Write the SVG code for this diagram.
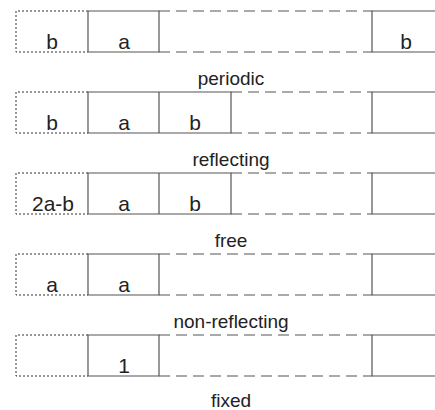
<svg xmlns="http://www.w3.org/2000/svg" width="435" height="410" viewBox="0 0 435 410">
<style>
.dot{fill:none;stroke:#333;stroke-width:1;stroke-dasharray:2,2}
.sol{fill:none;stroke:#555;stroke-width:1.2}
.dash{fill:none;stroke:#555;stroke-width:1.2;stroke-dasharray:11,6}
text{font-family:"Liberation Sans",Arial,sans-serif;font-size:19px;fill:#222;text-anchor:middle}
.c{font-size:21px}
</style>
<rect width="435" height="410" fill="#fff"/>
<g id="periodic" transform="translate(0,11)">
<path class="dot" d="M88,0H16V41H88"/>
<path class="sol" d="M88,0V41M88,0H159V41H88M159,0V41"/>
<path class="dash" d="M159,0H372M159,41H372"/>
<path class="sol" d="M435,0H372V41H435"/>
<text class="c" x="52" y="38">b</text><text class="c" x="124" y="38">a</text><text class="c" x="406" y="38">b</text>
<text x="231" y="74">periodic</text>
</g>
<g id="reflecting" transform="translate(0,92)">
<path class="dot" d="M88,0H16V41H88"/>
<path class="sol" d="M88,0H231V41H88ZM159,0V41"/>
<path class="dash" d="M231,0H372M231,41H372"/>
<path class="sol" d="M435,0H372V41H435"/>
<text class="c" x="52" y="38">b</text><text class="c" x="124" y="38">a</text><text class="c" x="195" y="38">b</text>
<text x="231" y="74">reflecting</text>
</g>
<g id="free" transform="translate(0,173)">
<path class="dot" d="M88,0H16V41H88"/>
<path class="sol" d="M88,0H231V41H88ZM159,0V41"/>
<path class="dash" d="M231,0H372M231,41H372"/>
<path class="sol" d="M435,0H372V41H435"/>
<text class="c" x="53" y="38">2a-b</text><text class="c" x="124" y="38">a</text><text class="c" x="195" y="38">b</text>
<text x="231" y="74">free</text>
</g>
<g id="non-reflecting" transform="translate(0,254)">
<path class="dot" d="M88,0H16V41H88"/>
<path class="sol" d="M88,0H159V41H88Z"/>
<path class="dash" d="M159,0H372M159,41H372"/>
<path class="sol" d="M435,0H372V41H435"/>
<text class="c" x="52" y="38">a</text><text class="c" x="124" y="38">a</text>
<text x="231" y="74">non-reflecting</text>
</g>
<g id="fixed" transform="translate(0,335)">
<path class="dot" d="M88,0H16V41H88"/>
<path class="sol" d="M88,0H159V41H88Z"/>
<path class="dash" d="M159,0H372M159,41H372"/>
<path class="sol" d="M435,0H372V41H435"/>
<text class="c" x="124" y="38">1</text>
<text x="231" y="72">fixed</text>
</g>
</svg>
